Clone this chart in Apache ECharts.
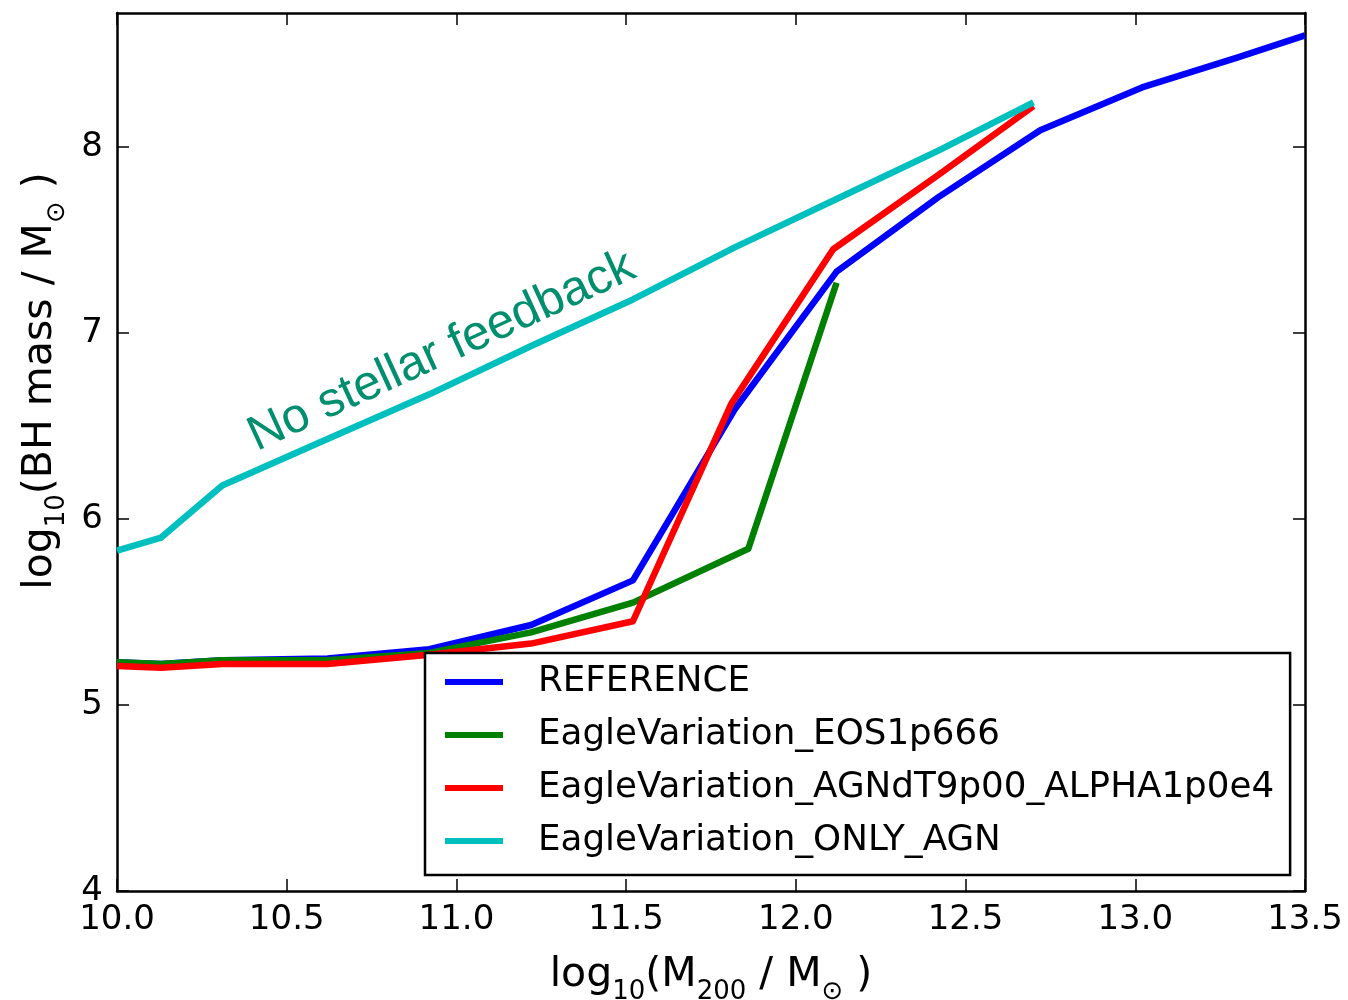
<!DOCTYPE html>
<html>
<head>
<meta charset="utf-8">
<title>BH mass vs halo mass</title>
<script src="https://cdn.jsdelivr.net/npm/echarts@6/dist/echarts.min.js"></script>
<style>
  html, body { margin: 0; padding: 0; background: #fff; }
  #chart { width: 1348px; height: 1000px; }
</style>
</head>
<body>
<div id="chart"></div>
<script>
// log10(M200 / Msun) bins and median log10(BH mass / Msun) per simulation
const refMass   = [10.0, 10.13, 10.31, 10.62, 10.92, 11.22, 11.52, 11.82, 12.12, 12.42, 12.72, 13.02, 13.3, 13.5];
const refBH     = [5.23, 5.22, 5.24, 5.25, 5.30, 5.43, 5.67, 6.59, 7.33, 7.73, 8.09, 8.32, 8.48, 8.60];

const eosMass   = [10.0, 10.13, 10.31, 10.62, 10.92, 11.22, 11.52, 11.86, 12.12];
const eosBH     = [5.23, 5.22, 5.24, 5.24, 5.28, 5.39, 5.55, 5.84, 7.27];

const agnMass   = [10.0, 10.13, 10.31, 10.62, 10.92, 11.22, 11.52, 11.81, 12.11, 12.42, 12.70];
const agnBH     = [5.21, 5.20, 5.22, 5.22, 5.27, 5.33, 5.45, 6.62, 7.45, 7.85, 8.22];

const onlyMass  = [10.0, 10.13, 10.31, 10.62, 10.92, 11.22, 11.52, 11.82, 12.12, 12.42, 12.70];
const onlyBH    = [5.83, 5.90, 6.18, 6.43, 6.67, 6.93, 7.18, 7.46, 7.72, 7.98, 8.24];

const seriesNames = [
  'REFERENCE',
  'EagleVariation_EOS1p666',
  'EagleVariation_AGNdT9p00_ALPHA1p0e4',
  'EagleVariation_ONLY_AGN'
];
const seriesColors = ['#0000ff', '#008000', '#ff0000', '#00bfbf'];

const xTicks = [10.0, 10.5, 11.0, 11.5, 12.0, 12.5, 13.0, 13.5];
const yTicks = [4, 5, 6, 7, 8];

const noteText = 'No stellar feedback';
const noteAnchor = [10.425, 6.31];   // start of the label, in data units

const pairs = (xs, ys) => xs.map((x, i) => [x, ys[i]]);

const chart = echarts.init(document.getElementById('chart'), null, { renderer: 'canvas' });

const tickFont = { fontFamily: 'DejaVu Sans', fontSize: 34, color: '#000' };
const frameLine = { show: true, lineStyle: { color: '#000', width: 2.5 } };
const tickStyle = { show: true, inside: true, length: 12, lineStyle: { color: '#000', width: 1.5 } };

const titleRich = {
  n: { fontFamily: 'DejaVu Sans', fontSize: 41, color: '#000', lineHeight: 48, verticalAlign: 'bottom' },
  s: { fontFamily: 'DejaVu Sans', fontSize: 26, color: '#000', lineHeight: 48, verticalAlign: 'bottom', padding: [0, 0, -9, 0] }
};

const option = {
  animation: false,
  backgroundColor: '#fff',
  grid: { left: 117, right: 43, top: 13, bottom: 109, containLabel: false, outerBoundsMode: 'none' },
  xAxis: [
    {
      type: 'value', min: 10, max: 13.5, interval: 0.5, position: 'bottom',
      axisLine: frameLine,
      axisTick: Object.assign({ customValues: xTicks }, tickStyle),
      splitLine: { show: false },
      axisLabel: Object.assign({ margin: 12, customValues: xTicks, formatter: v => v.toFixed(1) }, tickFont),
      name: '{n|log}{s|10}{n|(M}{s|200}{n| / M}{s|\u2299}{n| )}',
      nameLocation: 'middle', nameGap: 57,
      nameTextStyle: { rich: titleRich }
    },
    {
      type: 'value', min: 10, max: 13.5, interval: 0.5, position: 'top',
      axisLine: frameLine,
      axisTick: Object.assign({ customValues: xTicks }, tickStyle),
      axisLabel: { show: false }, splitLine: { show: false }
    }
  ],
  yAxis: [
    {
      type: 'value', min: 4, max: 8.72, interval: 1, position: 'left',
      axisLine: frameLine,
      axisTick: Object.assign({ customValues: yTicks }, tickStyle),
      splitLine: { show: false },
      axisLabel: Object.assign({ margin: 14, customValues: yTicks }, tickFont),
      name: '{n|log}{s|10}{n|(BH mass / M}{s|\u2299}{n| )}',
      nameLocation: 'middle', nameGap: 56, nameRotate: 90,
      nameTextStyle: { padding: [0, 0, 0, 142], rich: titleRich }
    },
    {
      type: 'value', min: 4, max: 8.72, interval: 1, position: 'right',
      axisLine: frameLine,
      axisTick: Object.assign({ customValues: yTicks }, tickStyle),
      axisLabel: { show: false }, splitLine: { show: false }
    }
  ],
  legend: {
    orient: 'vertical',
    left: 425, top: 653,
    padding: [11, 16, 16, 20],
    itemGap: 17,
    itemWidth: 58, itemHeight: 6,
    icon: 'rect',
    backgroundColor: '#fff',
    borderColor: '#000', borderWidth: 2.5, borderRadius: 0,
    textStyle: { fontFamily: 'DejaVu Sans', fontSize: 35.7, color: '#000', lineHeight: 35, padding: [0, 0, 0, 30] },
    data: seriesNames,
    z: 10
  },
  series: [
    { data: pairs(refMass, refBH) },
    { data: pairs(eosMass, eosBH) },
    { data: pairs(agnMass, agnBH) },
    { data: pairs(onlyMass, onlyBH) }
  ].map((s, i) => Object.assign({
    name: seriesNames[i],
    type: 'line',
    symbol: 'none',
    color: seriesColors[i],
    lineStyle: { width: 6.5, color: seriesColors[i], join: 'round', cap: 'butt' },
    z: 2 + i
  }, s))
};

chart.setOption(option);

// rotated annotation placed along the ONLY_AGN curve
const p = chart.convertToPixel({ xAxisIndex: 0, yAxisIndex: 0 }, noteAnchor);
chart.setOption({
  graphic: [{
    type: 'text',
    x: p[0], y: p[1],
    rotation: 0.43,
    z: 20,
    style: {
      text: noteText,
      x: 0, y: 0,
      textAlign: 'left', textVerticalAlign: 'bottom',
      fontFamily: 'Liberation Sans, Arial, sans-serif',
      fontSize: 49,
      fill: '#008f6e'
    }
  }]
});
</script>
</body>
</html>
